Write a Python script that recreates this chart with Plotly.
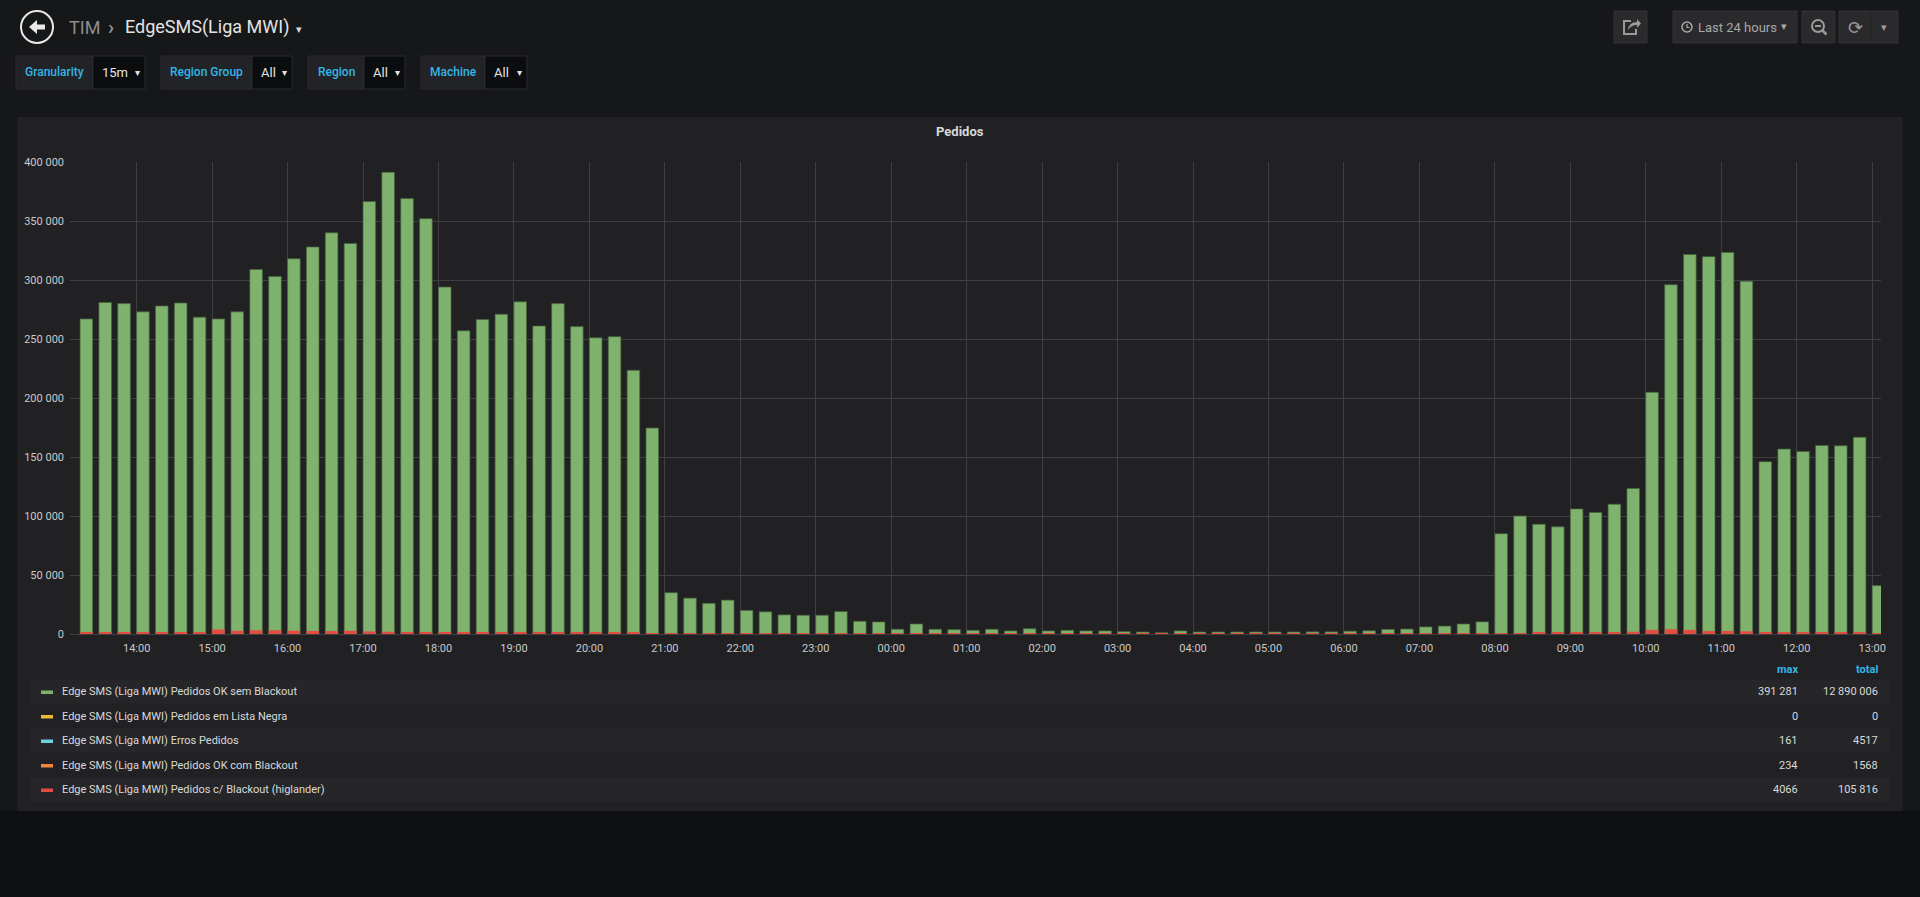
import plotly.graph_objects as go
import pandas as pd

# 15 minute buckets, "last 24 hours" view
slots = pd.date_range("2019-03-11 13:15", periods=96, freq="15min")

ok_sem_blackout = [
    267000, 281000, 280000, 273000, 278000, 280500, 268500, 267000, 273000, 309000,
    303000, 318000, 328000, 340000, 331000, 366500, 391281, 369000, 352000, 294000,
    257000, 266500, 271000, 281500, 261000, 280000, 260500, 251000, 252000, 223500,
    174500,
    35000, 30400, 26000, 28700, 20000, 18800, 16200, 15900, 15900, 19000,
    10800, 10200, 4000, 8500, 4000, 3700, 3100, 4000, 2600, 4500,
    2600, 3100, 2600, 2600, 2000, 1700, 1100, 2600, 1700, 1700,
    1700, 1700, 1700, 1700, 1800, 1800, 2400, 2700, 3900, 4200,
    6000, 6700, 8500, 10300,
    85000, 100000, 93000, 90800, 106000, 103000, 110000, 123400, 204800, 296000,
    321600, 319800, 323400, 299000, 146000, 156700, 154600, 159800, 159500, 166700,
    41000,
]
c_blackout = [
    1000, 1000, 1000, 1000, 1000, 1300, 1700, 3800, 2700, 3200,
    3200, 2800, 2600, 2500, 2700, 2200, 1900, 1100, 1200, 1200,
    1200, 1300, 1300, 1200, 1300, 1200, 1100, 1000, 1000, 900,
    800,
    500, 400, 350, 350, 300, 300, 250, 250, 250, 250,
    200, 150, 100, 100, 80, 60, 50, 50, 40, 40,
    40, 30, 30, 30, 30, 20, 20, 20, 20, 20,
    20, 20, 20, 20, 30, 30, 40, 50, 60, 80,
    100, 120, 150, 200,
    700, 800, 900, 900, 1000, 1100, 1400, 1900, 3500, 4066,
    3500, 2500, 2600, 2300, 1300, 1300, 1300, 1300, 1300, 1200,
    400,
]

legend_names = [
    "Edge SMS (Liga MWI) Pedidos OK sem Blackout",
    "Edge SMS (Liga MWI) Pedidos em Lista Negra",
    "Edge SMS (Liga MWI) Erros Pedidos",
    "Edge SMS (Liga MWI) Pedidos OK com Blackout",
    "Edge SMS (Liga MWI) Pedidos c/ Blackout (higlander)",
]
legend_colors = ["#7eb26d", "#eab839", "#6ed0e0", "#ef843c", "#e24d42"]
legend_max = [391281, 0, 161, 234, 4066]
legend_total = [12890006, 0, 4517, 1568, 105816]

variables = [("Granularity", "15m"), ("Region Group", "All"), ("Region", "All"), ("Machine", "All")]

W, H = 1920, 897
L, R, T, B = 70, 1881, 162, 634


def X(p):
    return (p - L) / (R - L)


def Y(p):
    return (B - p) / (B - T)


def fmt(v):
    return f"{v:,}".replace(",", " ") if v >= 10000 else str(v)


# bars are not stacked: the red series is painted over the green one
fig = go.Figure()
fig.add_trace(go.Bar(
    x=slots, y=ok_sem_blackout, name=legend_names[0],
    marker=dict(color=legend_colors[0], line=dict(width=1, color="rgba(70,100,60,0.7)")),
    width=600000, offset=0, opacity=1,
))
fig.add_trace(go.Bar(
    x=slots, y=c_blackout, name=legend_names[4],
    marker=dict(color=legend_colors[4], line=dict(width=0)),
    width=600000, offset=0, opacity=1,
))

shapes = []
ann = []


def rect(x0, y0, x1, y1, fill, line=None, layer="below"):
    shapes.append(dict(type="rect", xref="paper", yref="paper",
                       x0=X(x0), x1=X(x1), y0=Y(y1), y1=Y(y0),
                       fillcolor=fill, line=dict(width=1 if line else 0, color=line or fill),
                       layer=layer))


def text(x, y, s, size=12, color="#d8d9da", xa="left", weight=400, family="Roboto"):
    ann.append(dict(x=X(x), y=Y(y), xref="paper", yref="paper", text=s, showarrow=False,
                    xanchor=xa, yanchor="middle",
                    font=dict(size=size, color=color, family=family, weight=weight)))


# page / panel
rect(0, 811, W, H, "#0f1012")
rect(17, 117, 1903, 811, "#212124")

# header
shapes.append(dict(type="circle", xref="paper", yref="paper",
                   x0=X(21), x1=X(53), y0=Y(43), y1=Y(11),
                   line=dict(color="#e8e8e8", width=2), layer="above"))
shapes.append(dict(type="path", xref="paper", yref="paper",
                   path=f"M {X(29)},{Y(27)} L {X(37)},{Y(20)} L {X(37)},{Y(24.5)} L {X(45)},{Y(24.5)} "
                        f"L {X(45)},{Y(29.5)} L {X(37)},{Y(29.5)} L {X(37)},{Y(34)} Z",
                   fillcolor="#e8e8e8", line=dict(width=0), layer="above"))
text(67, 27, "TIM", 18, "#8e8e8e")
text(106, 27, "›", 20, "#8e8e8e", weight=700)
text(123, 27, "EdgeSMS(Liga MWI)", 18, "#e3e3e3")
text(294, 29, "▾", 11, "#d8d9da")

# template variables
var_boxes = [(16, 93, 145), (161, 252, 292), (308, 364, 405), (421, 485, 527)]
for (lbl, val), (x0, xm, x1) in zip(variables, var_boxes):
    rect(x0, 56, xm, 89, "#222326", "#2b2b2e")
    rect(xm, 56, x1, 89, "#0b0c0e", "#2b2b2e")
    text((x0 + xm) / 2, 72.5, lbl, 12, "#33b5e5", "center", 500)
    text(xm + 7, 73, val, 13, "#e3e3e3")
    text(x1 - 8, 72, "▾", 10, "#e3e3e3", "center")

# right side buttons
for x0, x1 in [(1614, 1647), (1673, 1797), (1802, 1835), (1839, 1898)]:
    rect(x0, 11, x1, 43, "#2a2a2d", "#333336")
shapes.append(dict(type="line", xref="paper", yref="paper", x0=X(1871), x1=X(1871),
                   y0=Y(12), y1=Y(42), line=dict(color="#222224", width=1)))
# share icon
shapes.append(dict(type="path", xref="paper", yref="paper",
                   path=f"M {X(1631)},{Y(21)} L {X(1624)},{Y(21)} L {X(1624)},{Y(34)} L {X(1636)},{Y(34)} L {X(1636)},{Y(29)}",
                   line=dict(color="#9a9a9a", width=2), layer="above"))
shapes.append(dict(type="path", xref="paper", yref="paper",
                   path=f"M {X(1628)},{Y(30)} Q {X(1629)},{Y(22)} {X(1637)},{Y(22)} L {X(1637)},{Y(19)} L {X(1641)},{Y(23.5)} L {X(1637)},{Y(28)} L {X(1637)},{Y(25)} Q {X(1631)},{Y(25)} {X(1628)},{Y(30)} Z",
                   fillcolor="#9a9a9a", line=dict(width=0), layer="above"))
# clock
shapes.append(dict(type="circle", xref="paper", yref="paper", x0=X(1682), x1=X(1692),
                   y0=Y(32), y1=Y(22), line=dict(color="#a8a8a8", width=1.5), layer="above"))
shapes.append(dict(type="path", xref="paper", yref="paper",
                   path=f"M {X(1687)},{Y(24)} L {X(1687)},{Y(27.5)} L {X(1689.5)},{Y(27.5)}",
                   line=dict(color="#a8a8a8", width=1.2), layer="above"))
text(1696, 27, "Last 24 hours", 13, "#a8a8a8")
text(1784, 26, "▾", 11, "#a8a8a8", "center")
# zoom out
shapes.append(dict(type="circle", xref="paper", yref="paper", x0=X(1812), x1=X(1824),
                   y0=Y(32), y1=Y(20), line=dict(color="#9a9a9a", width=2), layer="above"))
shapes.append(dict(type="line", xref="paper", yref="paper", x0=X(1815), x1=X(1821),
                   y0=Y(26), y1=Y(26), line=dict(color="#9a9a9a", width=2), layer="above"))
shapes.append(dict(type="line", xref="paper", yref="paper", x0=X(1822.5), x1=X(1826.5),
                   y0=Y(30.5), y1=Y(34.5), line=dict(color="#9a9a9a", width=2.5), layer="above"))
text(1855, 27, "⟳", 18, "#9a9a9a", "center", family="DejaVu Sans")
text(1884, 27, "▾", 11, "#9a9a9a", "center")

# panel title
text(960, 131, "Pedidos", 13, "#d8d9da", "center", 700)

# legend table
text(1800, 669, "max", 11, "#33b5e5", "right", 700)
text(1880, 669, "total", 11, "#33b5e5", "right", 700)
for i, (nm, col, mx, tot) in enumerate(zip(legend_names, legend_colors, legend_max, legend_total)):
    yc = 691.5 + i * 24.5
    if i % 2 == 0:
        rect(30, yc - 12.2, 1890, yc + 12.2, "#262628")
    shapes.append(dict(type="rect", xref="paper", yref="paper", x0=X(41), x1=X(53),
                       y0=Y(yc + 2.5), y1=Y(yc - 1), fillcolor=col, line=dict(width=0), layer="above"))
    text(60, yc, nm, 11, "#d8d9da")
    text(1800, yc, fmt(mx), 11, "#d8d9da", "right")
    text(1880, yc, fmt(tot), 11, "#d8d9da", "right")

grid = "#3f3f42"
fig.update_layout(
    width=W, height=H,
    margin=dict(l=L, r=W - R, t=T, b=H - B, pad=0),
    paper_bgcolor="#161719", plot_bgcolor="rgba(0,0,0,0)",
    barmode="overlay", showlegend=False,
    separators=". ",
    font=dict(family="Roboto", color="#d8d9da", size=11),
    shapes=shapes, annotations=ann,
    xaxis=dict(
        type="date", range=["2019-03-11 13:07", "2019-03-12 13:07"],
        dtick=3600000, tick0="2019-03-11 00:00", tickformat="%H:%M",
        showgrid=True, gridcolor=grid, gridwidth=1, zeroline=False,
        showline=False, ticks="", ticklabelstandoff=6,
        tickfont=dict(size=11, color="#c8c9ca"),
    ),
    yaxis=dict(
        range=[0, 400000], dtick=50000, tickformat=",d",
        showgrid=True, gridcolor=grid, gridwidth=1,
        zeroline=True, zerolinecolor=grid, zerolinewidth=1,
        showline=False, ticks="", ticklabelstandoff=5,
        tickfont=dict(size=11, color="#c8c9ca"),
    ),
)

fig.write_html(
    "out.html",
    config={"displayModeBar": False},
    post_script="document.body.style.margin='0';document.body.style.background='#161719';"
                "document.documentElement.style.overflow='hidden';",
)
